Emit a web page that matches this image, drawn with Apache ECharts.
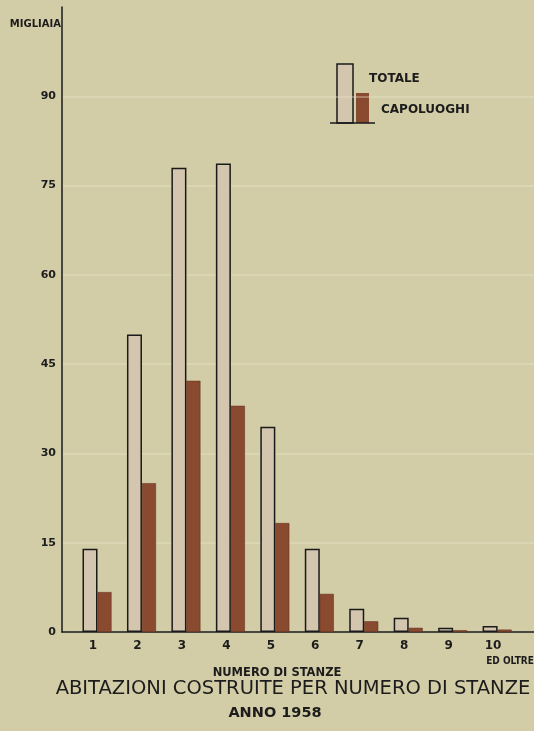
<!DOCTYPE html>
<html>
<head>
<meta charset="utf-8">
<script src="https://cdn.jsdelivr.net/npm/echarts@6/dist/echarts.min.js"></script>
<style>
  html, body { margin: 0; padding: 0; background: #d3cda7; }
  #chart { width: 534px; height: 731px; }
</style>
</head>
<body>
<div id="chart"></div>
<script>
// dati (migliaia di abitazioni)
const stanze = [1, 2, 3, 4, 5, 6, 7, 8, 9, 10];
const totale = [14, 50, 78, 78.7, 34.5, 14, 3.9, 2.4, 0.7, 1.0];
const capoluoghi = [6.7, 25, 42.2, 38, 18.3, 6.4, 1.8, 0.7, 0.3, 0.4];
const yTicks = [0, 15, 30, 45, 60, 75, 90];

const font = 'DejaVu Sans';

function initChart() {
    const chart = echarts.init(document.getElementById('chart'));

    const option = {
        backgroundColor: '#d3cda7',
        animation: false,
        grid: {
            left: 62,
            right: 0,
            top: 7,
            bottom: 99
        },
        xAxis: {
            type: 'value',
            min: 0.2125,
            max: 10.83,
            axisLine: { lineStyle: { color: '#1a1a1a', width: 1.5 } },
            axisTick: { show: false },
            splitLine: { show: false },
            axisLabel: {
                customValues: stanze,
                fontFamily: font,
                fontWeight: 'bold',
                fontSize: 12,
                color: '#1c1c1c',
                margin: 8,
                padding: [0, 8, 0, 0]
            }
        },
        yAxis: {
            type: 'value',
            min: 0,
            max: 105,
            interval: 15,
            name: 'MIGLIAIA',
            nameLocation: 'end',
            nameGap: -22,
            nameTextStyle: {
                fontFamily: font,
                fontWeight: 'bold',
                fontSize: 10,
                color: '#1c1c1c',
                align: 'right',
                padding: [0, 1, 0, 0]
            },
            axisLine: { show: true, lineStyle: { color: '#1a1a1a', width: 1.5 } },
            axisTick: { show: false },
            splitLine: {
                show: true,
                showMaxLine: false,
                lineStyle: { color: 'rgba(232,229,200,0.35)', width: 2 }
            },
            axisLabel: {
                customValues: yTicks,
                fontFamily: font,
                fontWeight: 'bold',
                fontSize: 11,
                color: '#1c1c1c',
                margin: 6
            }
        },
        series: [
            {
                name: 'TOTALE',
                type: 'bar',
                barWidth: 15,
                barGap: '0%',
                data: stanze.map((s, i) => [s, totale[i]]),
                itemStyle: {
                    color: '#d4c5ae',
                    borderColor: '#1a1a1a',
                    borderWidth: 1.5
                }
            },
            {
                name: 'CAPOLUOGHI',
                type: 'bar',
                barWidth: 14,
                barGap: '0%',
                data: stanze.map((s, i) => [s, capoluoghi[i]]),
                itemStyle: {
                    color: '#8a4a30',
                    borderColor: '#5a2c1a',
                    borderWidth: 0.5
                }
            }
        ],
        graphic: [
            // legenda disegnata a mano
            {
                type: 'rect',
                shape: { x: 337, y: 64, width: 16, height: 59 },
                style: { fill: '#d4c5ae', stroke: '#1a1a1a', lineWidth: 1.5 }
            },
            {
                type: 'rect',
                shape: { x: 356, y: 93, width: 13, height: 30 },
                style: { fill: '#8a4a30' }
            },
            {
                type: 'line',
                shape: { x1: 330, y1: 123, x2: 375, y2: 123 },
                style: { stroke: '#1a1a1a', lineWidth: 1.5 }
            },
            {
                type: 'text',
                x: 369, y: 79,
                style: {
                    text: 'TOTALE',
                    font: 'bold 12px "DejaVu Sans"',
                    fill: '#1c1c1c',
                    verticalAlign: 'middle'
                }
            },
            {
                type: 'text',
                x: 381, y: 110,
                style: {
                    text: 'CAPOLUOGHI',
                    font: 'bold 12px "DejaVu Sans"',
                    fill: '#1c1c1c',
                    verticalAlign: 'middle'
                }
            },
            {
                type: 'text',
                x: 510, y: 661,
                style: {
                    text: 'ED OLTRE',
                    font: 'bold 10px "DejaVu Sans Condensed"',
                    fill: '#1c1c1c',
                    align: 'center',
                    verticalAlign: 'middle'
                }
            },
            {
                type: 'text',
                x: 277, y: 673,
                style: {
                    text: 'NUMERO DI STANZE',
                    font: 'bold 11.5px "DejaVu Sans"',
                    fill: '#1c1c1c',
                    align: 'center',
                    verticalAlign: 'middle'
                }
            },
            // titolo
            {
                type: 'text',
                x: 293, y: 689,
                style: {
                    text: 'ABITAZIONI COSTRUITE PER NUMERO DI STANZE',
                    font: '19.5px "DejaVu Sans"',
                    fill: '#1c1c1c',
                    align: 'center',
                    verticalAlign: 'middle'
                }
            },
            {
                type: 'text',
                x: 275, y: 713,
                style: {
                    text: 'ANNO 1958',
                    font: 'bold 14.5px "DejaVu Sans"',
                    fill: '#1c1c1c',
                    align: 'center',
                    verticalAlign: 'middle'
                }
            }
        ]
    };

    chart.setOption(option);
}

document.addEventListener('DOMContentLoaded', initChart);
</script>
</body>
</html>
